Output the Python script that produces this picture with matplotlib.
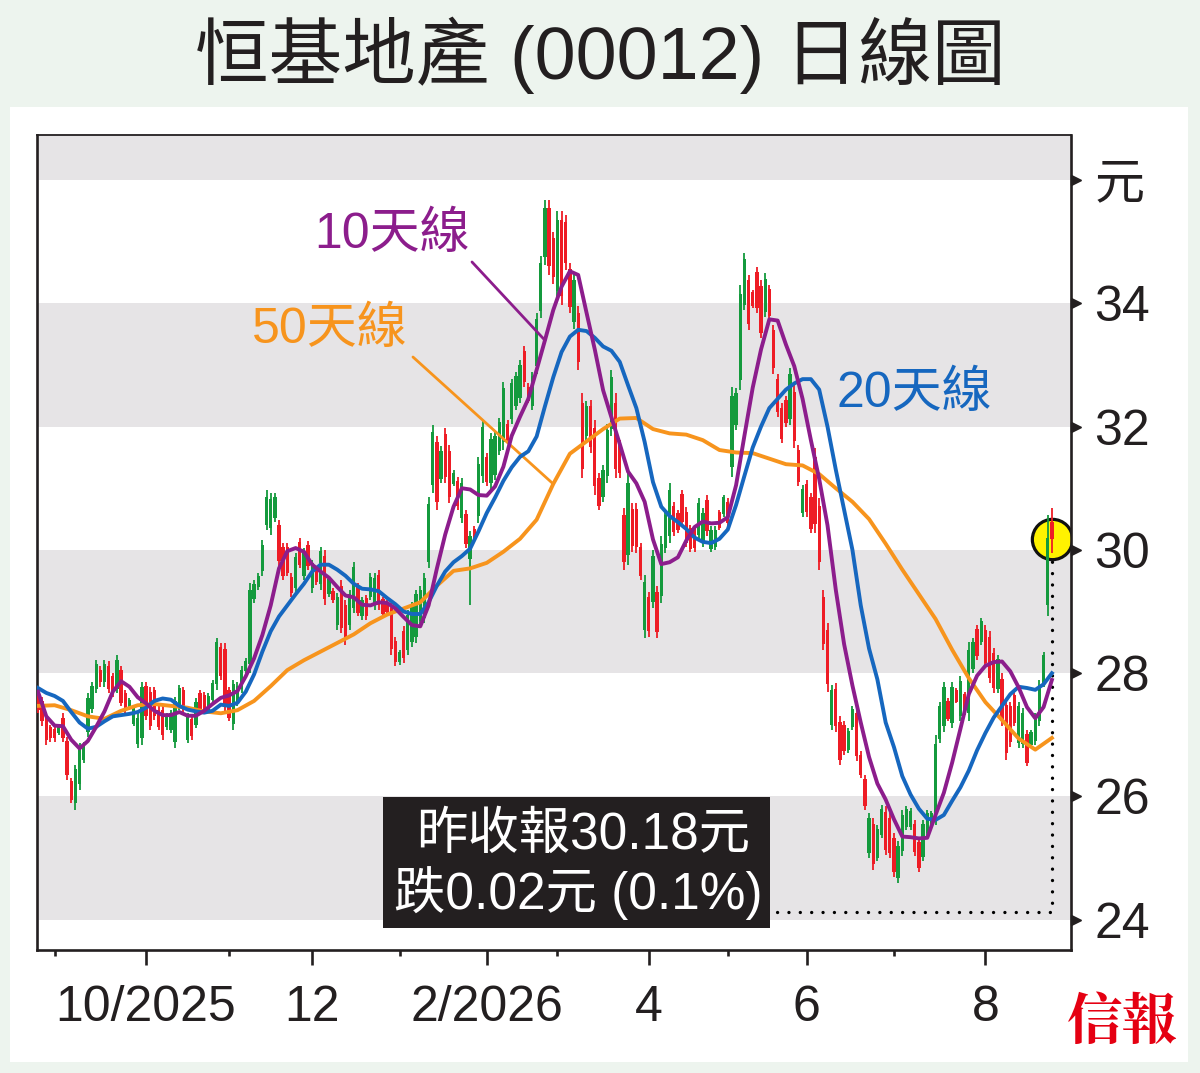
import numpy as np
import matplotlib.pyplot as plt
import matplotlib.transforms as mtransforms
from matplotlib.patches import Rectangle

plt.rcParams['font.family'] = ['Liberation Sans', 'Noto Sans CJK TC', 'DejaVu Sans']

# 日K數據
opens = [
    27.68, 27.55, 27.28, 27.12, 27.10, 27.03, 27.28, 26.90, 26.25, 25.90,
    26.20, 26.60, 27.05, 27.42, 27.75, 28.05, 27.85, 28.12, 27.95, 27.75,
    28.05, 27.68, 27.44, 27.18, 26.85, 26.95, 27.80, 27.70, 27.72, 27.40,
    27.40, 27.12, 27.08, 26.88, 27.46, 27.72, 26.92, 27.25, 27.16, 27.68,
    27.64, 27.40, 27.56, 27.82, 28.42, 28.40, 27.72, 27.18, 27.52, 27.74,
    28.03, 28.15, 29.20, 29.40, 29.65, 30.40, 30.35, 30.52, 30.40, 30.05,
    30.04, 29.56, 29.38, 30.12, 29.58, 30.08, 29.38, 29.68, 29.44, 29.90,
    29.28, 29.34, 28.78, 29.42, 29.10, 28.78, 29.06, 29.40, 28.92, 29.22,
    29.24, 29.10, 29.60, 29.20, 29.15, 29.05, 28.52, 28.18, 28.68, 28.38,
    28.50, 28.58, 28.84, 28.90, 29.80, 31.05, 31.75, 31.15, 31.88, 31.60,
    31.07, 31.12, 30.52, 30.58, 29.85, 30.34, 30.55, 31.20, 31.50, 31.08,
    31.22, 31.60, 31.75, 32.05, 32.12, 32.34, 32.46, 33.22, 32.65, 32.34,
    32.98, 33.88, 34.75, 35.55, 35.06, 34.20, 35.35, 35.32, 34.55, 33.70,
    33.84, 32.38, 31.85, 32.33, 31.97, 31.17, 30.85, 31.20, 31.96, 32.38,
    31.70, 30.56, 29.92, 30.66, 30.66, 30.04, 28.70, 29.24, 29.16, 29.31,
    29.26, 30.03, 30.22, 30.71, 30.60, 30.90, 30.62, 30.36, 30.35, 30.24,
    30.12, 30.81, 30.02, 30.05, 30.61, 30.58, 30.78, 31.35, 32.02, 32.75,
    33.98, 34.37, 34.18, 34.50, 34.28, 33.86, 34.23, 33.56, 32.78, 32.30,
    32.43, 32.13, 32.56, 31.62, 30.60, 31.07, 30.85, 31.50, 30.72, 29.24,
    28.70, 27.16, 27.75, 27.21, 27.16, 26.75, 27.12, 27.36, 26.68, 26.29,
    25.08, 25.56, 25.01, 25.38, 25.75, 25.65, 25.33, 24.67, 25.11, 25.50,
    25.50, 25.55, 25.26, 25.02, 25.40, 25.52, 25.70, 26.94, 27.14, 27.55,
    27.20, 27.73, 27.30, 27.66, 27.36, 28.06, 28.72, 28.51, 28.70, 28.59,
    28.33, 27.75, 27.91, 27.48, 27.46, 27.64, 26.86, 26.85, 27.02, 26.84,
    26.90, 27.22, 27.84, 29.10, 30.45,
]
highs = [
    27.73, 27.62, 27.35, 27.16, 27.16, 27.16, 27.35, 26.97, 26.30, 26.51,
    26.86, 26.89, 27.68, 27.86, 28.22, 28.11, 28.22, 28.19, 28.00, 28.30,
    28.11, 27.73, 27.59, 27.49, 27.35, 27.86, 27.86, 27.78, 27.78, 27.46,
    27.46, 27.35, 27.41, 27.62, 27.81, 27.78, 27.35, 27.30, 27.59, 27.73,
    27.70, 27.68, 27.89, 28.57, 28.49, 28.49, 27.78, 27.89, 27.86, 28.11,
    28.24, 29.46, 29.51, 29.62, 30.16, 30.97, 30.92, 30.92, 30.49, 30.11,
    30.11, 29.62, 29.95, 30.19, 30.03, 30.14, 29.84, 29.73, 30.05, 30.00,
    29.57, 29.38, 29.30, 29.51, 29.19, 29.35, 29.81, 29.46, 29.24, 29.27,
    29.62, 29.62, 29.68, 29.24, 29.19, 29.14, 28.59, 28.38, 28.76, 29.03,
    29.16, 29.35, 29.41, 29.62, 30.85, 32.03, 31.84, 31.68, 31.97, 31.70,
    31.30, 31.19, 31.16, 30.65, 30.30, 30.38, 31.51, 32.11, 31.57, 31.89,
    31.92, 32.14, 32.73, 32.11, 32.78, 32.89, 33.08, 33.30, 32.70, 32.89,
    33.84, 34.76, 35.68, 35.68, 35.16, 35.49, 35.49, 35.43, 34.65, 34.49,
    33.95, 32.54, 32.41, 32.43, 32.11, 31.24, 31.38, 32.05, 32.92, 32.54,
    31.78, 30.68, 31.24, 30.76, 30.76, 30.11, 29.59, 29.32, 30.00, 29.41,
    30.22, 30.65, 31.08, 30.78, 30.65, 30.97, 30.70, 30.41, 30.41, 30.84,
    30.68, 30.89, 30.38, 30.38, 30.65, 30.89, 30.84, 32.65, 32.62, 34.30,
    34.81, 34.46, 34.22, 34.59, 34.38, 34.49, 34.30, 33.65, 32.86, 32.38,
    32.49, 32.95, 32.68, 31.70, 31.05, 31.14, 30.92, 31.65, 30.84, 29.35,
    28.81, 27.81, 27.84, 27.30, 27.22, 27.11, 27.46, 27.46, 26.73, 26.35,
    25.73, 25.65, 25.54, 25.86, 25.84, 25.73, 25.41, 25.27, 25.78, 25.84,
    25.81, 25.62, 25.32, 25.62, 25.78, 25.76, 27.00, 27.54, 27.86, 27.59,
    27.86, 27.76, 27.95, 27.70, 28.51, 28.57, 28.78, 28.89, 28.78, 28.68,
    28.41, 28.30, 28.00, 27.59, 27.54, 27.70, 27.54, 27.43, 27.08, 27.08,
    27.35, 27.89, 28.35, 30.57, 30.68,
]
lows = [
    27.35, 27.14, 26.84, 26.89, 26.89, 27.00, 26.89, 26.27, 25.89, 25.78,
    26.11, 26.54, 26.97, 27.35, 27.68, 27.78, 27.78, 27.68, 27.62, 27.68,
    27.46, 27.35, 27.41, 27.14, 26.78, 26.84, 27.24, 27.08, 27.24, 27.08,
    26.92, 27.08, 27.03, 26.78, 27.41, 27.35, 26.86, 26.92, 27.11, 27.35,
    27.35, 27.35, 27.51, 27.73, 27.89, 27.35, 27.22, 27.08, 27.46, 27.68,
    28.00, 28.00, 29.14, 29.35, 29.57, 30.32, 30.24, 30.46, 29.73, 29.51,
    29.57, 29.24, 29.30, 29.70, 29.51, 29.68, 29.30, 29.43, 29.35, 29.11,
    29.24, 29.14, 28.70, 28.65, 28.46, 28.70, 28.97, 28.92, 28.86, 28.86,
    29.19, 29.03, 29.03, 28.92, 28.97, 28.30, 28.11, 28.14, 28.16, 28.30,
    28.43, 28.49, 28.76, 28.81, 29.70, 30.92, 30.65, 31.08, 31.08, 30.76,
    31.03, 30.65, 30.43, 30.03, 29.11, 30.11, 30.43, 31.08, 31.03, 30.97,
    31.14, 31.54, 31.62, 31.73, 32.05, 32.27, 32.38, 32.65, 32.38, 32.27,
    32.86, 33.76, 34.62, 34.46, 34.32, 34.05, 33.97, 34.54, 33.84, 33.59,
    32.92, 31.16, 31.78, 31.57, 30.89, 30.65, 30.78, 31.08, 31.84, 31.16,
    31.16, 29.68, 29.76, 29.97, 29.95, 29.51, 28.57, 28.59, 29.05, 28.57,
    29.14, 29.95, 30.11, 30.22, 30.27, 30.38, 30.05, 29.97, 29.97, 30.16,
    30.05, 30.22, 29.97, 30.00, 30.32, 30.54, 30.38, 31.19, 31.95, 32.59,
    33.89, 33.57, 33.92, 33.84, 33.43, 33.78, 33.73, 32.86, 32.16, 31.73,
    32.00, 32.03, 31.65, 31.03, 30.54, 30.54, 30.27, 30.27, 29.68, 28.38,
    27.70, 27.08, 27.05, 26.51, 26.68, 26.70, 27.08, 26.57, 26.30, 25.78,
    25.00, 24.81, 24.95, 25.32, 25.05, 25.00, 24.70, 24.59, 25.03, 25.46,
    25.46, 25.03, 24.78, 24.95, 25.35, 25.49, 25.54, 26.86, 27.05, 27.22,
    27.11, 27.51, 27.22, 27.32, 27.22, 28.00, 28.22, 28.46, 28.08, 27.84,
    27.68, 27.68, 27.14, 26.59, 26.81, 27.14, 26.78, 26.78, 26.49, 26.81,
    26.84, 27.14, 27.78, 28.92, 29.95,
]
closes = [
    27.40, 27.22, 26.92, 26.95, 26.95, 27.13, 26.95, 26.35, 25.95, 26.45,
    26.80, 26.85, 27.60, 27.80, 28.15, 27.85, 28.15, 27.75, 27.68, 28.22,
    27.52, 27.40, 27.56, 27.45, 27.28, 27.78, 27.30, 27.15, 27.30, 27.12,
    27.00, 27.30, 27.36, 27.55, 27.76, 27.40, 27.30, 26.98, 27.54, 27.40,
    27.40, 27.63, 27.84, 28.50, 27.95, 27.45, 27.28, 27.82, 27.80, 28.05,
    28.20, 29.35, 29.45, 29.58, 30.08, 30.85, 30.82, 30.86, 29.82, 29.58,
    29.63, 29.30, 29.88, 29.76, 29.96, 29.74, 29.78, 29.48, 29.98, 29.20,
    29.52, 29.18, 29.24, 28.74, 28.55, 29.28, 29.72, 28.98, 29.18, 28.92,
    29.56, 29.55, 29.10, 28.96, 29.00, 28.40, 28.18, 28.34, 28.24, 28.95,
    29.10, 29.28, 29.35, 29.55, 30.75, 31.92, 30.78, 31.60, 31.18, 30.86,
    31.25, 30.72, 31.08, 30.10, 30.22, 30.15, 31.40, 32.00, 31.10, 31.80,
    31.85, 32.08, 32.62, 31.78, 32.70, 32.82, 33.00, 32.72, 32.42, 32.82,
    33.74, 34.65, 35.55, 34.60, 34.42, 35.35, 34.12, 34.65, 33.94, 34.38,
    33.04, 31.32, 32.33, 31.67, 31.03, 30.72, 31.30, 31.94, 32.80, 31.32,
    31.24, 29.80, 31.08, 30.06, 30.05, 29.58, 29.48, 28.68, 29.90, 28.67,
    30.10, 30.57, 30.97, 30.29, 30.32, 30.45, 30.12, 30.02, 30.03, 30.76,
    30.60, 30.30, 30.33, 30.33, 30.36, 30.85, 30.44, 32.50, 32.55, 34.15,
    34.72, 33.66, 33.96, 33.92, 33.52, 34.40, 33.80, 32.95, 32.24, 31.80,
    32.06, 32.85, 31.76, 31.10, 30.99, 30.61, 30.34, 30.42, 29.80, 28.48,
    27.82, 27.73, 27.14, 26.60, 26.74, 27.06, 27.42, 26.66, 26.35, 25.84,
    25.65, 24.90, 25.48, 25.80, 25.14, 25.08, 24.78, 25.20, 25.70, 25.80,
    25.77, 25.10, 24.84, 25.55, 25.73, 25.73, 26.85, 27.46, 27.78, 27.26,
    27.78, 27.54, 27.87, 27.36, 28.38, 28.50, 28.28, 28.84, 28.16, 27.93,
    27.76, 28.23, 27.23, 26.70, 26.89, 27.20, 27.46, 27.36, 26.55, 27.05,
    27.30, 27.81, 28.29, 30.20, 30.18,
]

# 移動平均線 (每2日/每4日讀一點)
ma10_days = list(range(0, 245, 2))
ma10 = [
    27.70, 27.30, 27.15, 27.14, 26.92, 26.78, 26.90, 27.13, 27.38, 27.70,
    27.87, 27.78, 27.61, 27.51, 27.39, 27.32, 27.32, 27.37, 27.31, 27.31,
    27.39, 27.50, 27.60, 27.64, 27.71, 27.95, 28.24, 28.62, 29.10, 29.70,
    29.98, 30.03, 29.97, 29.76, 29.65, 29.55, 29.40, 29.26, 29.23, 29.11,
    29.10, 29.15, 29.14, 29.05, 28.91, 28.78, 28.76, 29.10, 29.70, 30.25,
    30.70, 31.00, 30.98, 30.89, 30.88, 31.03, 31.35, 31.85, 32.16, 32.45,
    32.92, 33.40, 33.89, 34.27, 34.52, 34.46, 33.85, 33.25, 32.59, 32.15,
    31.72, 31.27, 31.08, 30.78, 30.17, 29.77, 29.80, 29.88, 30.15, 30.37,
    30.46, 30.43, 30.44, 30.53, 31.05, 31.85, 32.63, 33.25, 33.74, 33.72,
    33.33, 32.98, 32.45, 31.78, 31.15, 30.40, 29.35, 28.47, 27.80, 27.20,
    26.64, 26.21, 25.95, 25.63, 25.35, 25.34, 25.32, 25.33, 25.70, 26.06,
    26.55, 27.10, 27.66, 27.96, 28.12, 28.18, 28.19, 28.03, 27.77, 27.45,
    27.27, 27.45, 27.89,
]
ma20_days = list(range(0, 245, 2))
ma20 = [
    27.76, 27.68, 27.63, 27.55, 27.37, 27.20, 27.10, 27.13, 27.22, 27.30,
    27.32, 27.34, 27.37, 27.44, 27.55, 27.59, 27.57, 27.47, 27.41, 27.38,
    27.36, 27.39, 27.49, 27.47, 27.52, 27.70, 27.98, 28.35, 28.68, 28.92,
    29.10, 29.28, 29.45, 29.65, 29.76, 29.76, 29.68, 29.58, 29.45, 29.37,
    29.36, 29.33, 29.22, 29.12, 29.00, 28.96, 28.96, 29.15, 29.42, 29.65,
    29.80, 29.90, 30.02, 30.30, 30.60, 30.85, 31.12, 31.34, 31.51, 31.60,
    31.84, 32.33, 32.80, 33.21, 33.46, 33.57, 33.55, 33.44, 33.30, 33.23,
    33.05, 32.67, 32.30, 31.75, 31.10, 30.70, 30.55, 30.45, 30.34, 30.20,
    30.13, 30.11, 30.18, 30.33, 30.73, 31.20, 31.66, 32.00, 32.30, 32.45,
    32.60, 32.70, 32.77, 32.77, 32.60, 32.00, 31.30, 30.65, 30.00, 29.10,
    28.40, 27.90, 27.20, 26.80, 26.33, 26.03, 25.80, 25.64, 25.62, 25.70,
    25.93, 26.15, 26.42, 26.75, 27.03, 27.28, 27.47, 27.66, 27.78, 27.76,
    27.73, 27.82, 28.00,
]
ma50_days = list(range(0, 245, 4))
ma50 = [
    27.47, 27.48, 27.40, 27.30, 27.26, 27.39, 27.48, 27.50, 27.47, 27.44,
    27.38, 27.35, 27.40, 27.55, 27.79, 28.05, 28.21, 28.35, 28.49, 28.63,
    28.81, 28.95, 29.05, 29.15, 29.42, 29.66, 29.70, 29.79, 29.97, 30.18,
    30.49, 31.07, 31.56, 31.76, 31.96, 32.13, 32.14, 31.96, 31.89, 31.87,
    31.78, 31.62, 31.58, 31.57, 31.48, 31.39, 31.37, 31.23, 31.00, 30.78,
    30.50, 30.10, 29.68, 29.28, 28.88, 28.38, 27.92, 27.53, 27.24, 26.94,
    26.76, 26.95,
]

month_ticks = [26, 66, 108, 147, 185, 228]
month_labels = ['10/2025', '12', '2/2026', '4', '6', '8']
minor_ticks = [4, 46, 87, 125, 166, 206]
price_ticks = [24, 26, 28, 30, 32, 34, 36]
price_labels = ['24', '26', '28', '30', '32', '34', '元']
band_lows = [24, 28, 32, 36]

last_close = closes[-1]
change = closes[-1] - closes[-2]
pct = change / closes[-2] * 100

GREEN = '#149a3d'
RED = '#ee1c25'
PURPLE = '#8c1d8c'
BLUE = '#1667bf'
ORANGE = '#f7941d'
INK = '#231f20'

fig = plt.figure(figsize=(12, 10.73), dpi=100, facecolor='#edf4ee')
fig.patches.append(Rectangle((10 / 1200, 11 / 1073), 1178 / 1200, 955 / 1073,
                             transform=fig.transFigure, facecolor='white',
                             edgecolor='none', zorder=-5))
ax = fig.add_axes([37 / 1200, 123 / 1073, 1034 / 1200, 815 / 1073])
ax.set_zorder(2)
ax.set_facecolor('white')

for lo in band_lows:
    ax.axhspan(lo, lo + 2, color='#e6e4e6', zorder=0, linewidth=0)

o = np.array(opens)
h = np.array(highs)
l = np.array(lows)
c = np.array(closes)
days = np.arange(len(c))
colors = np.where(c >= o, GREEN, RED)

ax.vlines(days, l, h, colors=colors, linewidth=1.3, zorder=3)
ax.bar(days, np.maximum(np.abs(c - o), 0.03), bottom=np.minimum(o, c),
       width=0.8, color=colors, linewidth=0, zorder=3)

ax.plot(ma50_days, ma50, color=ORANGE, lw=2.8, zorder=4, solid_joinstyle='round')
ax.plot(ma20_days, ma20, color=BLUE, lw=2.8, zorder=4, solid_joinstyle='round')
ax.plot(ma10_days, ma10, color=PURPLE, lw=2.8, zorder=4, solid_joinstyle='round')

ax.set_xlim(-0.24, 248.6)
ax.set_ylim(23.51, 36.73)

# 最新收市價
x0, x1 = ax.get_xlim()
box_left, box_right = 0.3346, 0.7089
dot_level = 24.13
ax.plot([days[-1], days[-1], x0 + box_right * (x1 - x0)],
        [last_close, dot_level, dot_level], color='black', lw=2.4,
        linestyle=(0, (0.01, 3.4)), dash_capstyle='round', zorder=2)
ax.plot(days[-1], last_close, 'o', ms=29, mfc='#fff200', mec='#111111',
        mew=2.3, zorder=2.5)

ax.add_patch(Rectangle((box_left, 0.027), box_right - box_left, 0.1607,
                       transform=ax.transAxes, facecolor=INK, edgecolor='none', zorder=6))
ax.text(0.528, 0.141, f'昨收報{last_close:.2f}元', transform=ax.transAxes,
        ha='center', va='center', color='white', fontsize=37, zorder=7)
ax.text(0.523, 0.070, f'跌{abs(change):.2f}元 ({abs(pct):.1f}%)', transform=ax.transAxes,
        ha='center', va='center', color='white', fontsize=37, zorder=7)

# 均線標籤
ax.text(0.3433, 0.877, '10天線', transform=ax.transAxes, ha='center', va='center',
        color=PURPLE, fontsize=36)
ax.text(0.2834, 0.761, '50天線', transform=ax.transAxes, ha='center', va='center',
        color=ORANGE, fontsize=36)
ax.text(0.848, 0.683, '20天線', transform=ax.transAxes, ha='center', va='center',
        color=BLUE, fontsize=36)
ax.annotate('', xy=(ma10_days[61], ma10[61]), xycoords='data',
            xytext=(0.4207, 0.8442), textcoords='axes fraction',
            arrowprops=dict(arrowstyle='-', color=PURPLE, lw=2.0, shrinkA=0, shrinkB=0))
ax.annotate('', xy=(ma50_days[31], ma50[31]), xycoords='data',
            xytext=(0.3636, 0.7276), textcoords='axes fraction',
            arrowprops=dict(arrowstyle='-', color=ORANGE, lw=2.0, shrinkA=0, shrinkB=0))

# 軸
for side in ['left', 'right', 'bottom']:
    ax.spines[side].set_linewidth(1.9)
    ax.spines[side].set_color(INK)
ax.spines['top'].set_linewidth(1.3)
ax.spines['top'].set_color(INK)

ax.set_xticks(month_ticks, month_labels)
ax.set_xticks(minor_ticks, minor=True)
ax.tick_params(axis='x', which='major', direction='out', length=11, width=1.9,
               color=INK, labelsize=36, labelcolor=INK, pad=14)
ax.tick_params(axis='x', which='minor', direction='out', length=4, width=1.9, color=INK)

ax.yaxis.tick_right()
ax.set_yticks(price_ticks, price_labels)
ax.tick_params(axis='y', which='both', length=0, labelsize=36, labelcolor=INK, pad=17)

tri = mtransforms.blended_transform_factory(ax.transAxes, ax.transData)
ax.plot([1.005] * len(price_ticks), price_ticks, linestyle='none', marker='>',
        ms=7, color=INK, transform=tri, clip_on=False, zorder=8)

fig.text(0.5, 1 - 55 / 1073, '恒基地產 (00012) 日線圖', ha='center', va='center',
         fontsize=53, color=INK)
fig.text(1122 / 1200, 1 - 1024 / 1073, '信報', ha='center', va='center',
         fontsize=40, color='#e50012', fontweight='bold',
         family=['Noto Serif CJK TC', 'Noto Sans CJK TC'])

fig.savefig('out.png', dpi=100, facecolor=fig.get_facecolor())
